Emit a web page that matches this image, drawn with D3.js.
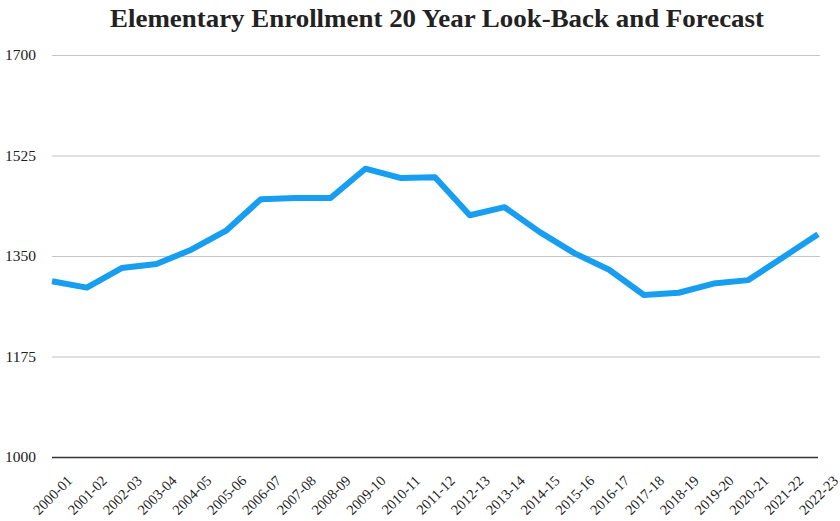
<!DOCTYPE html>
<html>
<head>
<meta charset="utf-8">
<script src="https://cdn.jsdelivr.net/npm/d3@7"></script>
<style>
  html, body { margin: 0; padding: 0; background: #fff; }
  svg { display: block; }
  text { font-family: "Palatino Linotype", "Book Antiqua", Palatino, "Liberation Serif", serif; fill: #222; }
</style>
</head>
<body>
<svg id="chart" width="840" height="521"></svg>
<script>
// School years, oldest to newest (last rows are projections)
const years = [
  "2000-01","2001-02","2002-03","2003-04","2004-05","2005-06","2006-07","2007-08",
  "2008-09","2009-10","2010-11","2011-12","2012-13","2013-14","2014-15","2015-16",
  "2016-17","2017-18","2018-19","2019-20","2020-21","2021-22","2022-23"
];
// Elementary enrollment per year
const enrollment = [
  1306, 1295, 1329, 1336, 1361, 1394, 1449, 1451,
  1451, 1502, 1486, 1487, 1421, 1435, 1392, 1355,
  1326, 1282, 1286, 1302, 1308, 1348, 1388
];
const yTicks = [1000, 1175, 1350, 1525, 1700];
const title = "Elementary Enrollment 20 Year Look-Back and Forecast";

const svg = d3.select("#chart");
const plotLeft = 52, plotRight = 818, plotTop = 55, plotBottom = 457, gridRight = 820;
const serif = "'Palatino Linotype', 'Book Antiqua', Palatino, 'Liberation Serif', serif";

const x = d3.scalePoint().domain(years).range([plotLeft, plotRight]).padding(0);
const y = d3.scaleLinear().domain([1000, 1700]).range([plotBottom, plotTop]);

// Title, stretched to the heading width
svg.append("text")
  .attr("x", 437).attr("y", 26.5)
  .attr("text-anchor", "middle")
  .attr("font-weight", "bold")
  .attr("font-size", 26)
  .attr("fill", "#111")
  .attr("textLength", 654).attr("lengthAdjust", "spacingAndGlyphs")
  .text(title);

// Horizontal gridlines and value labels
const yAxis = d3.axisLeft(y)
  .tickValues(yTicks)
  .tickFormat(d3.format("d"))
  .tickSize(-(gridRight - plotLeft))
  .tickPadding(16);
const gy = svg.append("g").attr("transform", `translate(${plotLeft},0)`).call(yAxis);
gy.select(".domain").remove();
gy.selectAll(".tick line")
  .attr("stroke", d => d === 1000 ? "#333" : "#c4c4c4")
  .attr("stroke-width", d => d === 1000 ? 1.5 : 1.2)
  .attr("x2", d => d === 1000 ? plotRight - plotLeft : gridRight - plotLeft);
gy.selectAll(".tick text")
  .attr("font-size", 15.5)
  .attr("fill", "#333")
  .style("font-family", serif);

// Year labels, rotated about their centres
const xAxis = d3.axisBottom(x).tickSize(0).tickPadding(0);
const gx = svg.append("g").attr("transform", `translate(0,${plotBottom})`).call(xAxis);
gx.select(".domain").remove();
gx.selectAll(".tick text")
  .attr("y", 0).attr("dy", "0.35em")
  .attr("text-anchor", "middle")
  .attr("font-size", 14.5)
  .attr("fill", "#333")
  .style("font-family", serif)
  .attr("transform", "translate(0,38) rotate(-45)");

// Enrollment line
const line = d3.line()
  .x((d, i) => x(years[i]))
  .y(d => y(d));
svg.append("path")
  .datum(enrollment)
  .attr("fill", "none")
  .attr("stroke", "#189ef0")
  .attr("stroke-width", 6)
  .attr("stroke-linejoin", "round")
  .attr("stroke-linecap", "butt")
  .attr("d", line);
</script>
</body>
</html>
